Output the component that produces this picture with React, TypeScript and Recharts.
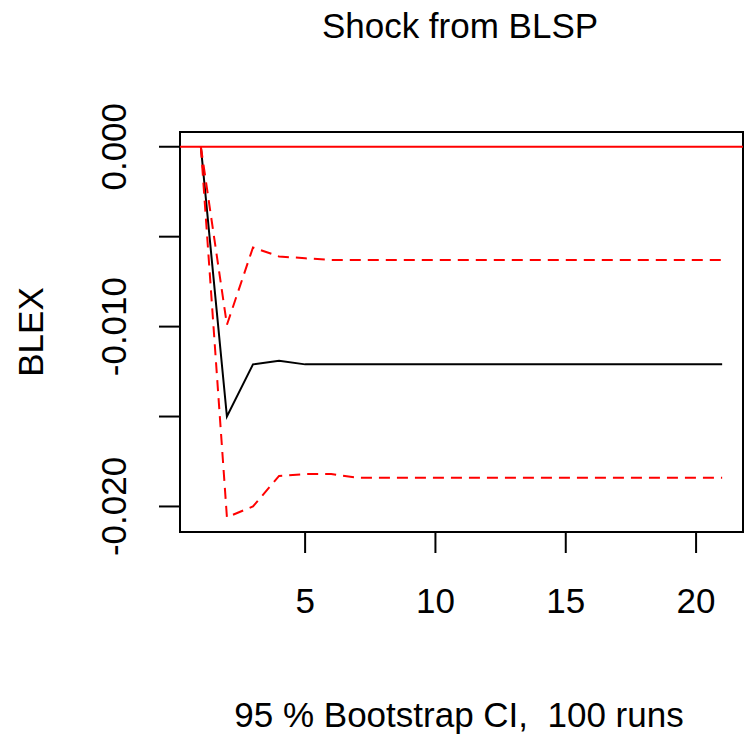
import { LineChart, Line, XAxis, YAxis, ReferenceLine, ReferenceArea } from 'recharts'

// forecast horizon
const steps = [1, 2, 3, 4, 5, 6, 7, 8, 9, 10, 11, 12, 13, 14, 15, 16, 17, 18, 19, 20, 21]

// orthogonal impulse response BLSP -> BLEX
const irf = [0, -0.015, -0.0121, -0.0119, -0.0121, -0.0121, -0.0121, -0.0121, -0.0121, -0.0121, -0.0121,
  -0.0121, -0.0121, -0.0121, -0.0121, -0.0121, -0.0121, -0.0121, -0.0121, -0.0121, -0.0121]

// 95% bootstrap band
const upper = [0, -0.0099, -0.0056, -0.0061, -0.0062, -0.0063, -0.0063, -0.0063, -0.0063, -0.0063, -0.0063,
  -0.0063, -0.0063, -0.0063, -0.0063, -0.0063, -0.0063, -0.0063, -0.0063, -0.0063, -0.0063]
const lower = [0, -0.0206, -0.02, -0.0183, -0.0182, -0.0182, -0.0184, -0.0184, -0.0184, -0.0184, -0.0184,
  -0.0184, -0.0184, -0.0184, -0.0184, -0.0184, -0.0184, -0.0184, -0.0184, -0.0184, -0.0184]

const xTicks = [5, 10, 15, 20]
const yTicks = [-0.02, -0.015, -0.01, -0.005, 0]
const yTickLabels = ['-0.020', '', '-0.010', '', '0.000']

const xDomain: [number, number] = [0.2, 21.8]
const yDomain: [number, number] = [-0.02142, 0.00082]

const font = '"Liberation Sans", Arial, sans-serif'
const fs = 35

const data = steps.map((s, i) => ({ step: s, irf: irf[i], upper: upper[i], lower: lower[i] }))

function YTick(props: any) {
  const { x, y, index } = props
  const label = yTickLabels[index]
  if (!label) return null
  return (
    <text x={x} y={y} transform={`rotate(-90, ${x}, ${y})`} textAnchor="middle"
      fontSize={fs} fill="#000" fontFamily={font}>
      {label}
    </text>
  )
}

export default function App() {
  return (
    <div style={{ position: 'absolute', left: 0, top: 0, width: 749, height: 742, background: '#fff' }}>
      <LineChart width={749} height={742} data={data}
        margin={{ top: 132, right: 6, left: 100, bottom: 120 }}
        style={{ fontFamily: font }}>
        <XAxis
          dataKey="step"
          type="number"
          domain={xDomain}
          allowDataOverflow
          ticks={xTicks}
          height={90}
          axisLine={false}
          tickSize={21}
          tickMargin={35}
          tickLine={{ stroke: '#000', strokeWidth: 2 }}
          tick={{ fill: '#000', fontSize: fs, fontFamily: font }}
        />
        <YAxis
          type="number"
          domain={yDomain}
          allowDataOverflow
          ticks={yTicks}
          width={80}
          axisLine={false}
          tickSize={21}
          tickMargin={33}
          tickLine={{ stroke: '#000', strokeWidth: 2 }}
          tick={<YTick />}
        />
        <ReferenceArea x1={xDomain[0]} x2={xDomain[1]} y1={yDomain[0]} y2={yDomain[1]}
          fill="none" fillOpacity={0} stroke="#000" strokeWidth={2} ifOverflow="visible" />
        <Line type="linear" dataKey="irf" stroke="#000" strokeWidth={2} dot={false} isAnimationActive={false} />
        <Line type="linear" dataKey="upper" stroke="#ff0000" strokeWidth={2} strokeDasharray="11 7"
          dot={false} isAnimationActive={false} />
        <Line type="linear" dataKey="lower" stroke="#ff0000" strokeWidth={2} strokeDasharray="11 7"
          dot={false} isAnimationActive={false} />
        <ReferenceLine y={0} stroke="#ff0000" strokeWidth={2} />
        <text x={460} y={38} textAnchor="middle" fontSize={fs} fill="#000" fontFamily={font}>
          Shock from BLSP
        </text>
        <text x={43} y={332} transform="rotate(-90, 43, 332)" textAnchor="middle" fontSize={fs}
          fill="#000" fontFamily={font}>
          BLEX
        </text>
        <text x={459} y={727} textAnchor="middle" fontSize={fs} fill="#000" fontFamily={font}
          style={{ whiteSpace: 'pre' }}>
          {'95 % Bootstrap CI,  100 runs'}
        </text>
      </LineChart>
    </div>
  )
}
